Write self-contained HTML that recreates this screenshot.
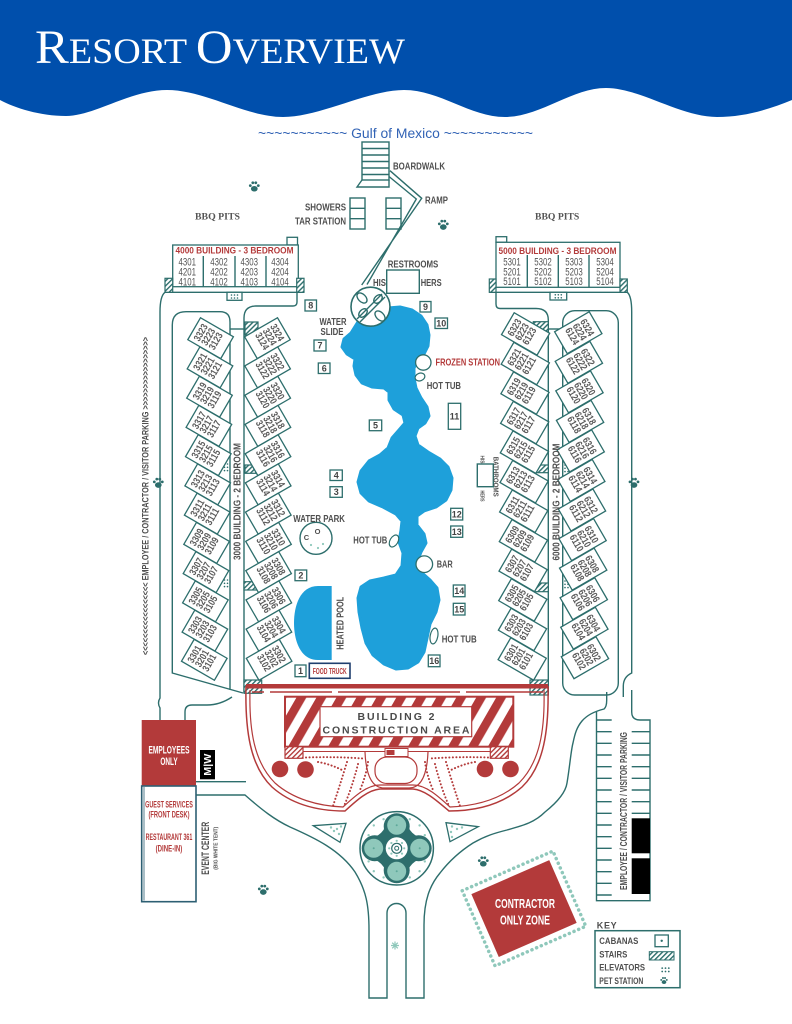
<!DOCTYPE html>
<html><head><meta charset="utf-8"><style>
html,body{margin:0;padding:0;background:#fff;}
svg{display:block;}
.c{font-family:"Liberation Sans Narrow","Liberation Sans",sans-serif;font-weight:bold;}
.g{fill:#4f4f4f;}
.n{font-family:"Liberation Sans Narrow","Liberation Sans",sans-serif;font-size:10px;font-weight:bold;fill:#5a5a5a;text-anchor:middle;}
.t{stroke:#2d6e6c;stroke-width:1.4;fill:none;}
.bx{stroke:#2d6e6c;stroke-width:1.3;fill:#fff;}
.nb{font-family:"Liberation Sans Narrow","Liberation Sans",sans-serif;font-weight:bold;font-size:9px;fill:#444;text-anchor:middle;}
.dg{font-family:"Liberation Sans Narrow","Liberation Sans",sans-serif;font-size:11px;fill:#555;text-anchor:middle;}
</style></head><body>
<svg width="792" height="1024" viewBox="0 0 792 1024" xmlns="http://www.w3.org/2000/svg">
<defs>
<pattern id="ht" width="3.5" height="3.5" patternUnits="userSpaceOnUse" patternTransform="rotate(45)"><rect width="3.5" height="3.5" fill="#fff"/><rect width="1.4" height="3.5" fill="#2d6e6c"/></pattern>
<pattern id="hr" width="3.5" height="3.5" patternUnits="userSpaceOnUse" patternTransform="rotate(45)"><rect width="3.5" height="3.5" fill="#fff"/><rect width="1.4" height="3.5" fill="#b33a3a"/></pattern>
<pattern id="st" width="17.3" height="10" patternUnits="userSpaceOnUse" patternTransform="rotate(30)"><rect width="17.3" height="10" fill="#fff"/><rect width="8.6" height="10" fill="#b33a3a"/></pattern>
<clipPath id="rb"><circle cx="396.7" cy="848.3" r="36"/></clipPath>
<symbol id="paw" viewBox="-7 -7 14 14"><ellipse cx="0" cy="2.2" rx="3.6" ry="3"/><circle cx="-4.3" cy="-1.2" r="1.5"/><circle cx="-1.6" cy="-4.2" r="1.5"/><circle cx="1.6" cy="-4.2" r="1.5"/><circle cx="4.3" cy="-1.2" r="1.5"/></symbol>
<symbol id="el" viewBox="0 0 10 6"><circle cx="2" cy="1.5" r="0.8"/><circle cx="5" cy="1.5" r="0.8"/><circle cx="8" cy="1.5" r="0.8"/><circle cx="2" cy="4.5" r="0.8"/><circle cx="5" cy="4.5" r="0.8"/><circle cx="8" cy="4.5" r="0.8"/></symbol>
</defs>
<rect width="792" height="1024" fill="#fff"/>
<!-- header -->
<path d="M0,0 H792 V100 C770,109 745,117 717,117 C680,117 640,88 606,88 C572,88 540,117 505,117 C470,117 440,90 404,90 C368,90 320,117 283,117 C246,117 205,90 167,90 C130,90 95,116 66,116 C40,116 15,108 0,100 Z" fill="#004fac"/>
<text x="35" y="63" font-family="Liberation Serif, serif" font-size="36" fill="#fff" textLength="370" lengthAdjust="spacingAndGlyphs"><tspan font-size="48">R</tspan>ESORT <tspan font-size="48">O</tspan>VERVIEW</text>
<text x="258" y="138" font-family="Liberation Sans, sans-serif" font-size="13.5" fill="#3263b5" textLength="275" lengthAdjust="spacingAndGlyphs">~~~~~~~~~~~ Gulf of Mexico ~~~~~~~~~~~</text>

<!-- boardwalk, ramp, showers -->
<g class="t" stroke-width="1.6"><rect x="362" y="142" width="27" height="38"/><path d="M362,148.5H389M362,155H389M362,161.5H389M362,168H389M362,174.5H389"/><path d="M362,180 L357,187 H389 V180"/></g>
<path class="t" d="M390,170.7 L421.7,198.3 L361.7,285 M389,176.5 L416.3,199 L367,284.5"/>
<g class="t"><rect x="350" y="198" width="15" height="31"/><path d="M350,208.3H365M350,218.7H365"/><rect x="386" y="198" width="15" height="31"/><path d="M386,208.3H401M386,218.7H401"/></g>

<!-- roads -->
<g class="t">
<path d="M165,292.3 Q160,296 160,312 V698 Q157,703 160,708 V720"/>
<path d="M230,690 V322 Q230,311.7 220,311.7 H186 Q172.3,311.7 172.3,325 V673 L243,693"/>
<path d="M230,329 H244"/>
<path d="M297,292.3 V302 Q297,306 293,306 H256 Q244,306 244,318 V693"/>
<path d="M185,720 V712 Q185,705 192,705 H207 Q220,705 232,697"/>
<path d="M496,292.3 V304 Q496,308.5 500,308.5 H536 Q548.3,308.5 548.3,320 V695"/>
<path d="M548.3,329 H562.7"/>
<rect x="562.7" y="310.7" width="55.6" height="384.3" rx="12"/>
<path d="M627.3,292.3 Q631.7,296 631.7,312 V673 Q623.3,677 623.3,686 V697"/>
<path d="M196,781.7 H246"/>
<path d="M196,795 H245 C262,810 275,820 290,827 C315,838 340,850 355,872 C366,890 369,905 369,930 V998 H387 V913 A9.5,9.5 0 0 1 406,913 V998 H424 V925 C424,900 430,885 440,873 C450,860 462,850 473,843 C485,836 495,833 507,830 C525,825 535,822 545,812 C560,800 566,790 567,783 C570,765 571,750 573,743 C575,733 577,727 582,721 C588,714 596,711 604,709 Q606.7,707 606.7,700 V692"/>
<path d="M596.5,711 V900.7 H650 V720 H640 Q631.7,720 631.7,712 V690"/>
<path d="M596.5,720H611.7M596.5,731.7H611.7M596.5,743.3H611.7M596.5,755H611.7M596.5,766.7H611.7M596.5,778.3H611.7M596.5,790H611.7M596.5,801.7H611.7M596.5,813.3H611.7M596.5,825H611.7M596.5,836.7H611.7M596.5,848.3H611.7M596.5,860H611.7M596.5,871.7H611.7M596.5,883.3H611.7M596.5,895H611.7"/>
<path d="M631.7,731.7H650M631.7,743.3H650M631.7,755H650M631.7,766.7H650M631.7,778.3H650M631.7,790H650M631.7,801.7H650M631.7,813.3H650"/>
</g>
<rect x="631.7" y="818.3" width="18.3" height="35" fill="#000"/>
<rect x="631.7" y="858.3" width="18.3" height="35.7" fill="#000"/>

<!-- 4000 building -->
<rect class="bx" x="287" y="237.3" width="10.5" height="7.7"/>
<rect class="bx" x="172.7" y="245" width="125.6" height="41.7"/>
<path class="t" d="M203.3,256V286.7M235,256V286.7M266,256V286.7M165,292.3H304"/>
<rect x="165" y="278.3" width="7.7" height="14" fill="url(#ht)" stroke="#2d6e6c" stroke-width="1.2"/>
<rect x="296.7" y="278.3" width="7.3" height="14" fill="url(#ht)" stroke="#2d6e6c" stroke-width="1.2"/>
<rect class="bx" x="227" y="292.3" width="15" height="8"/>
<use href="#el" x="229.5" y="293.5" width="10" height="6" fill="#2d6e6c"/>
<text class="c" x="234.5" y="253.3" text-anchor="middle" font-size="9.5" fill="#b33a3a" textLength="118" lengthAdjust="spacingAndGlyphs">4000 BUILDING - 3 BEDROOM</text>
<g class="dg">
<text x="187.3" y="265.5" textLength="17.5" lengthAdjust="spacingAndGlyphs">4301</text><text x="219" y="265.5" textLength="17.5" lengthAdjust="spacingAndGlyphs">4302</text><text x="249.3" y="265.5" textLength="17.5" lengthAdjust="spacingAndGlyphs">4303</text><text x="280" y="265.5" textLength="17.5" lengthAdjust="spacingAndGlyphs">4304</text>
<text x="187.3" y="275.5" textLength="17.5" lengthAdjust="spacingAndGlyphs">4201</text><text x="219" y="275.5" textLength="17.5" lengthAdjust="spacingAndGlyphs">4202</text><text x="249.3" y="275.5" textLength="17.5" lengthAdjust="spacingAndGlyphs">4203</text><text x="280" y="275.5" textLength="17.5" lengthAdjust="spacingAndGlyphs">4204</text>
<text x="187.3" y="285.3" textLength="17.5" lengthAdjust="spacingAndGlyphs">4101</text><text x="219" y="285.3" textLength="17.5" lengthAdjust="spacingAndGlyphs">4102</text><text x="249.3" y="285.3" textLength="17.5" lengthAdjust="spacingAndGlyphs">4103</text><text x="280" y="285.3" textLength="17.5" lengthAdjust="spacingAndGlyphs">4104</text>
</g>

<!-- 5000 building -->
<rect class="bx" x="496" y="236.7" width="10.7" height="5.6"/>
<rect class="bx" x="496" y="242.3" width="124" height="45"/>
<path class="t" d="M527.3,255V287.3M558.3,255V287.3M589,255V287.3M489.3,292.3H627.3"/>
<rect x="489.3" y="279" width="6.7" height="13.3" fill="url(#ht)" stroke="#2d6e6c" stroke-width="1.2"/>
<rect x="620" y="279" width="7.3" height="13.3" fill="url(#ht)" stroke="#2d6e6c" stroke-width="1.2"/>
<rect class="bx" x="550" y="292.3" width="16.7" height="7.7"/>
<use href="#el" x="553.3" y="293.3" width="10" height="6" fill="#2d6e6c"/>
<text class="c" x="557.5" y="254" text-anchor="middle" font-size="9.5" fill="#b33a3a" textLength="118" lengthAdjust="spacingAndGlyphs">5000 BUILDING - 3 BEDROOM</text>
<g class="dg">
<text x="512" y="265.5" textLength="17.5" lengthAdjust="spacingAndGlyphs">5301</text><text x="543" y="265.5" textLength="17.5" lengthAdjust="spacingAndGlyphs">5302</text><text x="574" y="265.5" textLength="17.5" lengthAdjust="spacingAndGlyphs">5303</text><text x="605" y="265.5" textLength="17.5" lengthAdjust="spacingAndGlyphs">5304</text>
<text x="512" y="275.5" textLength="17.5" lengthAdjust="spacingAndGlyphs">5201</text><text x="543" y="275.5" textLength="17.5" lengthAdjust="spacingAndGlyphs">5202</text><text x="574" y="275.5" textLength="17.5" lengthAdjust="spacingAndGlyphs">5203</text><text x="605" y="275.5" textLength="17.5" lengthAdjust="spacingAndGlyphs">5204</text>
<text x="512" y="285" textLength="17.5" lengthAdjust="spacingAndGlyphs">5101</text><text x="543" y="285" textLength="17.5" lengthAdjust="spacingAndGlyphs">5102</text><text x="574" y="285" textLength="17.5" lengthAdjust="spacingAndGlyphs">5103</text><text x="605" y="285" textLength="17.5" lengthAdjust="spacingAndGlyphs">5104</text>
</g>

<!-- corridor hatches and elevators -->
<g fill="url(#ht)" stroke="#2d6e6c" stroke-width="1.2">
<rect x="245" y="322" width="13" height="13"/><rect x="245" y="465" width="13.3" height="8.3"/><rect x="244" y="581.7" width="17.7" height="8.3"/><rect x="244" y="680" width="17.7" height="13.3"/>
<rect x="533.3" y="321.7" width="15" height="13.3"/><rect x="530" y="465" width="18.3" height="7.7"/><rect x="530" y="583" width="18.3" height="8.7"/><rect x="530" y="680" width="18.3" height="15"/>
</g>
<g fill="#2d6e6c">
<circle cx="224.5" cy="464" r="0.8"/><circle cx="227.5" cy="464" r="0.8"/><circle cx="224.5" cy="467.3" r="0.8"/><circle cx="227.5" cy="467.3" r="0.8"/><circle cx="224.5" cy="470.6" r="0.8"/><circle cx="227.5" cy="470.6" r="0.8"/>
<circle cx="224.5" cy="580" r="0.8"/><circle cx="227.5" cy="580" r="0.8"/><circle cx="224.5" cy="583.3" r="0.8"/><circle cx="227.5" cy="583.3" r="0.8"/><circle cx="224.5" cy="586.6" r="0.8"/><circle cx="227.5" cy="586.6" r="0.8"/>
<circle cx="565" cy="465" r="0.8"/><circle cx="568" cy="465" r="0.8"/><circle cx="565" cy="468.3" r="0.8"/><circle cx="568" cy="468.3" r="0.8"/><circle cx="565" cy="471.6" r="0.8"/><circle cx="568" cy="471.6" r="0.8"/>
<circle cx="565" cy="581" r="0.8"/><circle cx="568" cy="581" r="0.8"/><circle cx="565" cy="584.3" r="0.8"/><circle cx="568" cy="584.3" r="0.8"/><circle cx="565" cy="587.6" r="0.8"/><circle cx="568" cy="587.6" r="0.8"/>
</g>

<!-- 3000 left column -->
<g transform="translate(208,336.7) rotate(30)"><rect class="bx" x="-16" y="-12.7" width="38" height="25.4"/><text class="n" transform="translate(-5,0) rotate(-90)" textLength="18" lengthAdjust="spacingAndGlyphs">3323</text><text class="n" transform="translate(3.6,0) rotate(-90)" textLength="18" lengthAdjust="spacingAndGlyphs">3223</text><text class="n" transform="translate(12.2,0) rotate(-90)" textLength="18" lengthAdjust="spacingAndGlyphs">3123</text></g>
<g transform="translate(207.4,365.9) rotate(30)"><rect class="bx" x="-16" y="-12.7" width="38" height="25.4"/><text class="n" transform="translate(-5,0) rotate(-90)" textLength="18" lengthAdjust="spacingAndGlyphs">3321</text><text class="n" transform="translate(3.6,0) rotate(-90)" textLength="18" lengthAdjust="spacingAndGlyphs">3221</text><text class="n" transform="translate(12.2,0) rotate(-90)" textLength="18" lengthAdjust="spacingAndGlyphs">3121</text></g>
<g transform="translate(206.9,395.2) rotate(30)"><rect class="bx" x="-16" y="-12.7" width="38" height="25.4"/><text class="n" transform="translate(-5,0) rotate(-90)" textLength="18" lengthAdjust="spacingAndGlyphs">3319</text><text class="n" transform="translate(3.6,0) rotate(-90)" textLength="18" lengthAdjust="spacingAndGlyphs">3219</text><text class="n" transform="translate(12.2,0) rotate(-90)" textLength="18" lengthAdjust="spacingAndGlyphs">3119</text></g>
<g transform="translate(206.3,424.4) rotate(30)"><rect class="bx" x="-16" y="-12.7" width="38" height="25.4"/><text class="n" transform="translate(-5,0) rotate(-90)" textLength="18" lengthAdjust="spacingAndGlyphs">3317</text><text class="n" transform="translate(3.6,0) rotate(-90)" textLength="18" lengthAdjust="spacingAndGlyphs">3217</text><text class="n" transform="translate(12.2,0) rotate(-90)" textLength="18" lengthAdjust="spacingAndGlyphs">3117</text></g>
<g transform="translate(205.7,453.7) rotate(30)"><rect class="bx" x="-16" y="-12.7" width="38" height="25.4"/><text class="n" transform="translate(-5,0) rotate(-90)" textLength="18" lengthAdjust="spacingAndGlyphs">3315</text><text class="n" transform="translate(3.6,0) rotate(-90)" textLength="18" lengthAdjust="spacingAndGlyphs">3215</text><text class="n" transform="translate(12.2,0) rotate(-90)" textLength="18" lengthAdjust="spacingAndGlyphs">3115</text></g>
<g transform="translate(205.1,482.9) rotate(30)"><rect class="bx" x="-16" y="-12.7" width="38" height="25.4"/><text class="n" transform="translate(-5,0) rotate(-90)" textLength="18" lengthAdjust="spacingAndGlyphs">3313</text><text class="n" transform="translate(3.6,0) rotate(-90)" textLength="18" lengthAdjust="spacingAndGlyphs">3213</text><text class="n" transform="translate(12.2,0) rotate(-90)" textLength="18" lengthAdjust="spacingAndGlyphs">3113</text></g>
<g transform="translate(204.6,512.1) rotate(30)"><rect class="bx" x="-16" y="-12.7" width="38" height="25.4"/><text class="n" transform="translate(-5,0) rotate(-90)" textLength="18" lengthAdjust="spacingAndGlyphs">3311</text><text class="n" transform="translate(3.6,0) rotate(-90)" textLength="18" lengthAdjust="spacingAndGlyphs">3211</text><text class="n" transform="translate(12.2,0) rotate(-90)" textLength="18" lengthAdjust="spacingAndGlyphs">3111</text></g>
<g transform="translate(204,541.4) rotate(30)"><rect class="bx" x="-16" y="-12.7" width="38" height="25.4"/><text class="n" transform="translate(-5,0) rotate(-90)" textLength="18" lengthAdjust="spacingAndGlyphs">3309</text><text class="n" transform="translate(3.6,0) rotate(-90)" textLength="18" lengthAdjust="spacingAndGlyphs">3209</text><text class="n" transform="translate(12.2,0) rotate(-90)" textLength="18" lengthAdjust="spacingAndGlyphs">3109</text></g>
<g transform="translate(203.4,570.6) rotate(30)"><rect class="bx" x="-16" y="-12.7" width="38" height="25.4"/><text class="n" transform="translate(-5,0) rotate(-90)" textLength="18" lengthAdjust="spacingAndGlyphs">3307</text><text class="n" transform="translate(3.6,0) rotate(-90)" textLength="18" lengthAdjust="spacingAndGlyphs">3207</text><text class="n" transform="translate(12.2,0) rotate(-90)" textLength="18" lengthAdjust="spacingAndGlyphs">3107</text></g>
<g transform="translate(202.8,599.9) rotate(30)"><rect class="bx" x="-16" y="-12.7" width="38" height="25.4"/><text class="n" transform="translate(-5,0) rotate(-90)" textLength="18" lengthAdjust="spacingAndGlyphs">3305</text><text class="n" transform="translate(3.6,0) rotate(-90)" textLength="18" lengthAdjust="spacingAndGlyphs">3205</text><text class="n" transform="translate(12.2,0) rotate(-90)" textLength="18" lengthAdjust="spacingAndGlyphs">3105</text></g>
<g transform="translate(202.3,629.1) rotate(30)"><rect class="bx" x="-16" y="-12.7" width="38" height="25.4"/><text class="n" transform="translate(-5,0) rotate(-90)" textLength="18" lengthAdjust="spacingAndGlyphs">3303</text><text class="n" transform="translate(3.6,0) rotate(-90)" textLength="18" lengthAdjust="spacingAndGlyphs">3203</text><text class="n" transform="translate(12.2,0) rotate(-90)" textLength="18" lengthAdjust="spacingAndGlyphs">3103</text></g>
<g transform="translate(201.7,658.3) rotate(30)"><rect class="bx" x="-16" y="-12.7" width="38" height="25.4"/><text class="n" transform="translate(-5,0) rotate(-90)" textLength="18" lengthAdjust="spacingAndGlyphs">3301</text><text class="n" transform="translate(3.6,0) rotate(-90)" textLength="18" lengthAdjust="spacingAndGlyphs">3201</text><text class="n" transform="translate(12.2,0) rotate(-90)" textLength="18" lengthAdjust="spacingAndGlyphs">3101</text></g>

<!-- 3000 right column -->
<g transform="translate(270,336.7) rotate(-30)"><rect class="bx" x="-22" y="-12.7" width="38" height="25.4"/><text class="n" transform="translate(5,0) rotate(90)" textLength="18" lengthAdjust="spacingAndGlyphs">3324</text><text class="n" transform="translate(-3.6,0) rotate(90)" textLength="18" lengthAdjust="spacingAndGlyphs">3224</text><text class="n" transform="translate(-12.2,0) rotate(90)" textLength="18" lengthAdjust="spacingAndGlyphs">3124</text></g>
<g transform="translate(270.2,365.9) rotate(-30)"><rect class="bx" x="-22" y="-12.7" width="38" height="25.4"/><text class="n" transform="translate(5,0) rotate(90)" textLength="18" lengthAdjust="spacingAndGlyphs">3322</text><text class="n" transform="translate(-3.6,0) rotate(90)" textLength="18" lengthAdjust="spacingAndGlyphs">3222</text><text class="n" transform="translate(-12.2,0) rotate(90)" textLength="18" lengthAdjust="spacingAndGlyphs">3122</text></g>
<g transform="translate(270.3,395.2) rotate(-30)"><rect class="bx" x="-22" y="-12.7" width="38" height="25.4"/><text class="n" transform="translate(5,0) rotate(90)" textLength="18" lengthAdjust="spacingAndGlyphs">3320</text><text class="n" transform="translate(-3.6,0) rotate(90)" textLength="18" lengthAdjust="spacingAndGlyphs">3220</text><text class="n" transform="translate(-12.2,0) rotate(90)" textLength="18" lengthAdjust="spacingAndGlyphs">3120</text></g>
<g transform="translate(270.5,424.4) rotate(-30)"><rect class="bx" x="-22" y="-12.7" width="38" height="25.4"/><text class="n" transform="translate(5,0) rotate(90)" textLength="18" lengthAdjust="spacingAndGlyphs">3318</text><text class="n" transform="translate(-3.6,0) rotate(90)" textLength="18" lengthAdjust="spacingAndGlyphs">3218</text><text class="n" transform="translate(-12.2,0) rotate(90)" textLength="18" lengthAdjust="spacingAndGlyphs">3118</text></g>
<g transform="translate(270.6,453.7) rotate(-30)"><rect class="bx" x="-22" y="-12.7" width="38" height="25.4"/><text class="n" transform="translate(5,0) rotate(90)" textLength="18" lengthAdjust="spacingAndGlyphs">3316</text><text class="n" transform="translate(-3.6,0) rotate(90)" textLength="18" lengthAdjust="spacingAndGlyphs">3216</text><text class="n" transform="translate(-12.2,0) rotate(90)" textLength="18" lengthAdjust="spacingAndGlyphs">3116</text></g>
<g transform="translate(270.8,482.9) rotate(-30)"><rect class="bx" x="-22" y="-12.7" width="38" height="25.4"/><text class="n" transform="translate(5,0) rotate(90)" textLength="18" lengthAdjust="spacingAndGlyphs">3314</text><text class="n" transform="translate(-3.6,0) rotate(90)" textLength="18" lengthAdjust="spacingAndGlyphs">3214</text><text class="n" transform="translate(-12.2,0) rotate(90)" textLength="18" lengthAdjust="spacingAndGlyphs">3114</text></g>
<g transform="translate(270.9,512.1) rotate(-30)"><rect class="bx" x="-22" y="-12.7" width="38" height="25.4"/><text class="n" transform="translate(5,0) rotate(90)" textLength="18" lengthAdjust="spacingAndGlyphs">3312</text><text class="n" transform="translate(-3.6,0) rotate(90)" textLength="18" lengthAdjust="spacingAndGlyphs">3212</text><text class="n" transform="translate(-12.2,0) rotate(90)" textLength="18" lengthAdjust="spacingAndGlyphs">3112</text></g>
<g transform="translate(271.1,541.4) rotate(-30)"><rect class="bx" x="-22" y="-12.7" width="38" height="25.4"/><text class="n" transform="translate(5,0) rotate(90)" textLength="18" lengthAdjust="spacingAndGlyphs">3310</text><text class="n" transform="translate(-3.6,0) rotate(90)" textLength="18" lengthAdjust="spacingAndGlyphs">3210</text><text class="n" transform="translate(-12.2,0) rotate(90)" textLength="18" lengthAdjust="spacingAndGlyphs">3110</text></g>
<g transform="translate(271.2,570.6) rotate(-30)"><rect class="bx" x="-22" y="-12.7" width="38" height="25.4"/><text class="n" transform="translate(5,0) rotate(90)" textLength="18" lengthAdjust="spacingAndGlyphs">3308</text><text class="n" transform="translate(-3.6,0) rotate(90)" textLength="18" lengthAdjust="spacingAndGlyphs">3208</text><text class="n" transform="translate(-12.2,0) rotate(90)" textLength="18" lengthAdjust="spacingAndGlyphs">3108</text></g>
<g transform="translate(271.4,599.9) rotate(-30)"><rect class="bx" x="-22" y="-12.7" width="38" height="25.4"/><text class="n" transform="translate(5,0) rotate(90)" textLength="18" lengthAdjust="spacingAndGlyphs">3306</text><text class="n" transform="translate(-3.6,0) rotate(90)" textLength="18" lengthAdjust="spacingAndGlyphs">3206</text><text class="n" transform="translate(-12.2,0) rotate(90)" textLength="18" lengthAdjust="spacingAndGlyphs">3106</text></g>
<g transform="translate(271.5,629.1) rotate(-30)"><rect class="bx" x="-22" y="-12.7" width="38" height="25.4"/><text class="n" transform="translate(5,0) rotate(90)" textLength="18" lengthAdjust="spacingAndGlyphs">3304</text><text class="n" transform="translate(-3.6,0) rotate(90)" textLength="18" lengthAdjust="spacingAndGlyphs">3204</text><text class="n" transform="translate(-12.2,0) rotate(90)" textLength="18" lengthAdjust="spacingAndGlyphs">3104</text></g>
<g transform="translate(271.7,658.3) rotate(-30)"><rect class="bx" x="-22" y="-12.7" width="38" height="25.4"/><text class="n" transform="translate(5,0) rotate(90)" textLength="18" lengthAdjust="spacingAndGlyphs">3302</text><text class="n" transform="translate(-3.6,0) rotate(90)" textLength="18" lengthAdjust="spacingAndGlyphs">3202</text><text class="n" transform="translate(-12.2,0) rotate(90)" textLength="18" lengthAdjust="spacingAndGlyphs">3102</text></g>

<!-- 6000 left column -->
<g transform="translate(521.7,331.7) rotate(30)"><rect class="bx" x="-16" y="-12.7" width="41" height="25.4"/><text class="n" transform="translate(-5,0) rotate(-90)" textLength="18" lengthAdjust="spacingAndGlyphs">6323</text><text class="n" transform="translate(3.6,0) rotate(-90)" textLength="18" lengthAdjust="spacingAndGlyphs">6223</text><text class="n" transform="translate(12.2,0) rotate(-90)" textLength="18" lengthAdjust="spacingAndGlyphs">6123</text></g>
<g transform="translate(521.4,361.3) rotate(30)"><rect class="bx" x="-16" y="-12.7" width="41" height="25.4"/><text class="n" transform="translate(-5,0) rotate(-90)" textLength="18" lengthAdjust="spacingAndGlyphs">6321</text><text class="n" transform="translate(3.6,0) rotate(-90)" textLength="18" lengthAdjust="spacingAndGlyphs">6221</text><text class="n" transform="translate(12.2,0) rotate(-90)" textLength="18" lengthAdjust="spacingAndGlyphs">6121</text></g>
<g transform="translate(521.1,390.8) rotate(30)"><rect class="bx" x="-16" y="-12.7" width="41" height="25.4"/><text class="n" transform="translate(-5,0) rotate(-90)" textLength="18" lengthAdjust="spacingAndGlyphs">6319</text><text class="n" transform="translate(3.6,0) rotate(-90)" textLength="18" lengthAdjust="spacingAndGlyphs">6219</text><text class="n" transform="translate(12.2,0) rotate(-90)" textLength="18" lengthAdjust="spacingAndGlyphs">6119</text></g>
<g transform="translate(520.8,420.4) rotate(30)"><rect class="bx" x="-16" y="-12.7" width="41" height="25.4"/><text class="n" transform="translate(-5,0) rotate(-90)" textLength="18" lengthAdjust="spacingAndGlyphs">6317</text><text class="n" transform="translate(3.6,0) rotate(-90)" textLength="18" lengthAdjust="spacingAndGlyphs">6217</text><text class="n" transform="translate(12.2,0) rotate(-90)" textLength="18" lengthAdjust="spacingAndGlyphs">6117</text></g>
<g transform="translate(520.5,449.9) rotate(30)"><rect class="bx" x="-16" y="-12.7" width="41" height="25.4"/><text class="n" transform="translate(-5,0) rotate(-90)" textLength="18" lengthAdjust="spacingAndGlyphs">6315</text><text class="n" transform="translate(3.6,0) rotate(-90)" textLength="18" lengthAdjust="spacingAndGlyphs">6215</text><text class="n" transform="translate(12.2,0) rotate(-90)" textLength="18" lengthAdjust="spacingAndGlyphs">6115</text></g>
<g transform="translate(520.2,479.5) rotate(30)"><rect class="bx" x="-16" y="-12.7" width="41" height="25.4"/><text class="n" transform="translate(-5,0) rotate(-90)" textLength="18" lengthAdjust="spacingAndGlyphs">6313</text><text class="n" transform="translate(3.6,0) rotate(-90)" textLength="18" lengthAdjust="spacingAndGlyphs">6213</text><text class="n" transform="translate(12.2,0) rotate(-90)" textLength="18" lengthAdjust="spacingAndGlyphs">6113</text></g>
<g transform="translate(519.8,509) rotate(30)"><rect class="bx" x="-16" y="-12.7" width="41" height="25.4"/><text class="n" transform="translate(-5,0) rotate(-90)" textLength="18" lengthAdjust="spacingAndGlyphs">6311</text><text class="n" transform="translate(3.6,0) rotate(-90)" textLength="18" lengthAdjust="spacingAndGlyphs">6211</text><text class="n" transform="translate(12.2,0) rotate(-90)" textLength="18" lengthAdjust="spacingAndGlyphs">6111</text></g>
<g transform="translate(519.5,538.6) rotate(30)"><rect class="bx" x="-16" y="-12.7" width="41" height="25.4"/><text class="n" transform="translate(-5,0) rotate(-90)" textLength="18" lengthAdjust="spacingAndGlyphs">6309</text><text class="n" transform="translate(3.6,0) rotate(-90)" textLength="18" lengthAdjust="spacingAndGlyphs">6209</text><text class="n" transform="translate(12.2,0) rotate(-90)" textLength="18" lengthAdjust="spacingAndGlyphs">6109</text></g>
<g transform="translate(519.2,568.1) rotate(30)"><rect class="bx" x="-16" y="-12.7" width="41" height="25.4"/><text class="n" transform="translate(-5,0) rotate(-90)" textLength="18" lengthAdjust="spacingAndGlyphs">6307</text><text class="n" transform="translate(3.6,0) rotate(-90)" textLength="18" lengthAdjust="spacingAndGlyphs">6207</text><text class="n" transform="translate(12.2,0) rotate(-90)" textLength="18" lengthAdjust="spacingAndGlyphs">6107</text></g>
<g transform="translate(518.9,597.7) rotate(30)"><rect class="bx" x="-16" y="-12.7" width="41" height="25.4"/><text class="n" transform="translate(-5,0) rotate(-90)" textLength="18" lengthAdjust="spacingAndGlyphs">6305</text><text class="n" transform="translate(3.6,0) rotate(-90)" textLength="18" lengthAdjust="spacingAndGlyphs">6205</text><text class="n" transform="translate(12.2,0) rotate(-90)" textLength="18" lengthAdjust="spacingAndGlyphs">6105</text></g>
<g transform="translate(518.6,627.2) rotate(30)"><rect class="bx" x="-16" y="-12.7" width="41" height="25.4"/><text class="n" transform="translate(-5,0) rotate(-90)" textLength="18" lengthAdjust="spacingAndGlyphs">6303</text><text class="n" transform="translate(3.6,0) rotate(-90)" textLength="18" lengthAdjust="spacingAndGlyphs">6203</text><text class="n" transform="translate(12.2,0) rotate(-90)" textLength="18" lengthAdjust="spacingAndGlyphs">6103</text></g>
<g transform="translate(518.3,656.7) rotate(30)"><rect class="bx" x="-16" y="-12.7" width="41" height="25.4"/><text class="n" transform="translate(-5,0) rotate(-90)" textLength="18" lengthAdjust="spacingAndGlyphs">6301</text><text class="n" transform="translate(3.6,0) rotate(-90)" textLength="18" lengthAdjust="spacingAndGlyphs">6201</text><text class="n" transform="translate(12.2,0) rotate(-90)" textLength="18" lengthAdjust="spacingAndGlyphs">6101</text></g>

<!-- 6000 right column -->
<g transform="translate(580,331.7) rotate(-30)"><rect class="bx" x="-22" y="-12.7" width="40" height="25.4"/><text class="n" transform="translate(5,0) rotate(90)" textLength="18" lengthAdjust="spacingAndGlyphs">6324</text><text class="n" transform="translate(-3.6,0) rotate(90)" textLength="18" lengthAdjust="spacingAndGlyphs">6224</text><text class="n" transform="translate(-12.2,0) rotate(90)" textLength="18" lengthAdjust="spacingAndGlyphs">6124</text></g>
<g transform="translate(580.6,361.3) rotate(-30)"><rect class="bx" x="-22" y="-12.7" width="40" height="25.4"/><text class="n" transform="translate(5,0) rotate(90)" textLength="18" lengthAdjust="spacingAndGlyphs">6322</text><text class="n" transform="translate(-3.6,0) rotate(90)" textLength="18" lengthAdjust="spacingAndGlyphs">6222</text><text class="n" transform="translate(-12.2,0) rotate(90)" textLength="18" lengthAdjust="spacingAndGlyphs">6122</text></g>
<g transform="translate(581.2,390.8) rotate(-30)"><rect class="bx" x="-22" y="-12.7" width="40" height="25.4"/><text class="n" transform="translate(5,0) rotate(90)" textLength="18" lengthAdjust="spacingAndGlyphs">6320</text><text class="n" transform="translate(-3.6,0) rotate(90)" textLength="18" lengthAdjust="spacingAndGlyphs">6220</text><text class="n" transform="translate(-12.2,0) rotate(90)" textLength="18" lengthAdjust="spacingAndGlyphs">6120</text></g>
<g transform="translate(581.8,420.4) rotate(-30)"><rect class="bx" x="-22" y="-12.7" width="40" height="25.4"/><text class="n" transform="translate(5,0) rotate(90)" textLength="18" lengthAdjust="spacingAndGlyphs">6318</text><text class="n" transform="translate(-3.6,0) rotate(90)" textLength="18" lengthAdjust="spacingAndGlyphs">6218</text><text class="n" transform="translate(-12.2,0) rotate(90)" textLength="18" lengthAdjust="spacingAndGlyphs">6118</text></g>
<g transform="translate(582.4,449.9) rotate(-30)"><rect class="bx" x="-22" y="-12.7" width="40" height="25.4"/><text class="n" transform="translate(5,0) rotate(90)" textLength="18" lengthAdjust="spacingAndGlyphs">6316</text><text class="n" transform="translate(-3.6,0) rotate(90)" textLength="18" lengthAdjust="spacingAndGlyphs">6216</text><text class="n" transform="translate(-12.2,0) rotate(90)" textLength="18" lengthAdjust="spacingAndGlyphs">6116</text></g>
<g transform="translate(583,479.5) rotate(-30)"><rect class="bx" x="-22" y="-12.7" width="40" height="25.4"/><text class="n" transform="translate(5,0) rotate(90)" textLength="18" lengthAdjust="spacingAndGlyphs">6314</text><text class="n" transform="translate(-3.6,0) rotate(90)" textLength="18" lengthAdjust="spacingAndGlyphs">6214</text><text class="n" transform="translate(-12.2,0) rotate(90)" textLength="18" lengthAdjust="spacingAndGlyphs">6114</text></g>
<g transform="translate(583.7,509) rotate(-30)"><rect class="bx" x="-22" y="-12.7" width="40" height="25.4"/><text class="n" transform="translate(5,0) rotate(90)" textLength="18" lengthAdjust="spacingAndGlyphs">6312</text><text class="n" transform="translate(-3.6,0) rotate(90)" textLength="18" lengthAdjust="spacingAndGlyphs">6212</text><text class="n" transform="translate(-12.2,0) rotate(90)" textLength="18" lengthAdjust="spacingAndGlyphs">6112</text></g>
<g transform="translate(584.3,538.6) rotate(-30)"><rect class="bx" x="-22" y="-12.7" width="40" height="25.4"/><text class="n" transform="translate(5,0) rotate(90)" textLength="18" lengthAdjust="spacingAndGlyphs">6310</text><text class="n" transform="translate(-3.6,0) rotate(90)" textLength="18" lengthAdjust="spacingAndGlyphs">6210</text><text class="n" transform="translate(-12.2,0) rotate(90)" textLength="18" lengthAdjust="spacingAndGlyphs">6110</text></g>
<g transform="translate(584.9,568.1) rotate(-30)"><rect class="bx" x="-22" y="-12.7" width="40" height="25.4"/><text class="n" transform="translate(5,0) rotate(90)" textLength="18" lengthAdjust="spacingAndGlyphs">6308</text><text class="n" transform="translate(-3.6,0) rotate(90)" textLength="18" lengthAdjust="spacingAndGlyphs">6208</text><text class="n" transform="translate(-12.2,0) rotate(90)" textLength="18" lengthAdjust="spacingAndGlyphs">6108</text></g>
<g transform="translate(585.5,597.7) rotate(-30)"><rect class="bx" x="-22" y="-12.7" width="40" height="25.4"/><text class="n" transform="translate(5,0) rotate(90)" textLength="18" lengthAdjust="spacingAndGlyphs">6306</text><text class="n" transform="translate(-3.6,0) rotate(90)" textLength="18" lengthAdjust="spacingAndGlyphs">6206</text><text class="n" transform="translate(-12.2,0) rotate(90)" textLength="18" lengthAdjust="spacingAndGlyphs">6106</text></g>
<g transform="translate(586.1,627.2) rotate(-30)"><rect class="bx" x="-22" y="-12.7" width="40" height="25.4"/><text class="n" transform="translate(5,0) rotate(90)" textLength="18" lengthAdjust="spacingAndGlyphs">6304</text><text class="n" transform="translate(-3.6,0) rotate(90)" textLength="18" lengthAdjust="spacingAndGlyphs">6204</text><text class="n" transform="translate(-12.2,0) rotate(90)" textLength="18" lengthAdjust="spacingAndGlyphs">6104</text></g>
<g transform="translate(586.7,656.7) rotate(-30)"><rect class="bx" x="-22" y="-12.7" width="40" height="25.4"/><text class="n" transform="translate(5,0) rotate(90)" textLength="18" lengthAdjust="spacingAndGlyphs">6302</text><text class="n" transform="translate(-3.6,0) rotate(90)" textLength="18" lengthAdjust="spacingAndGlyphs">6202</text><text class="n" transform="translate(-12.2,0) rotate(90)" textLength="18" lengthAdjust="spacingAndGlyphs">6102</text></g>

<!-- pool -->
<polygon points="378,312 388,308 400,307 412,310 421,316 427,325 429,335 428,346 424,354 418,360 414,368 414,378 416,388 421,398 427,407 429,416 425,423 418,428 415,436 418,445 428,452 440,459 448,467 452,478 451,490 446,500 436,507 424,511 417,516 417,525 424,534 426,543 421,552 418,560 421,572 430,580 437,588 439,600 436,612 430,624 427,638 424,652 418,662 408,668 396,669 384,664 373,655 366,643 362,628 359,612 358,598 361,587 370,581 384,578 396,575 402,566 403,553 399,542 401,530 402,521 396,514 383,507 369,501 361,493 358,482 361,471 369,461 380,455 388,448 392,438 399,430 405,423 403,415 394,409 389,400 389,392 384,388 372,387 362,383 356,375 354,366 355,359 347,354 342,347 344,339 351,333 356,325 361,317 368,312" fill="#1ea0da" stroke="#1ea0da" stroke-width="3" stroke-linejoin="round"/>
<path d="M331.7,586 V660 H318 C300,660 294,640 294,623 C294,606 300,586 318,586 Z" fill="#1ea0da"/>
<!-- slide -->
<circle cx="370.5" cy="306.7" r="19.5" fill="#fff" stroke="#2d6e6c" stroke-width="1.6"/>
<g class="t" stroke-width="1.2">
<path d="M357,319 L382,294 M360,322 L385,297"/>
<ellipse cx="0" cy="0" rx="6" ry="3.8" transform="translate(362,298) rotate(45)"/>
<ellipse cx="0" cy="0" rx="6" ry="3.8" transform="translate(380,316) rotate(45)"/>
<ellipse cx="0" cy="0" rx="5" ry="3.3" transform="translate(363,313) rotate(-45)"/>
<ellipse cx="0" cy="0" rx="5" ry="3.3" transform="translate(378,299) rotate(-45)"/>
</g>
<!-- pool features -->
<circle cx="423.3" cy="362.5" r="7.7" fill="#fff" stroke="#2d6e6c" stroke-width="1.3"/>
<ellipse cx="420" cy="377" rx="5" ry="3.8" transform="rotate(-20 420 377)" fill="#fff" stroke="#2d6e6c" stroke-width="1.2"/>
<ellipse cx="394" cy="541" rx="4" ry="6.5" transform="rotate(30 394 541)" fill="#fff" stroke="#2d6e6c" stroke-width="1.2"/>
<ellipse cx="434" cy="636" rx="3.8" ry="8" transform="rotate(10 434 636)" fill="#fff" stroke="#2d6e6c" stroke-width="1.2"/>
<circle cx="424.3" cy="564.2" r="8.3" fill="#fff" stroke="#2d6e6c" stroke-width="1.3"/>
<circle cx="316" cy="538.3" r="16" fill="#fff" stroke="#2d6e6c" stroke-width="1.4"/>
<text class="c g" x="306.5" y="540" font-size="7.5" text-anchor="middle">C</text>
<text class="c g" x="317.5" y="534" font-size="7.5" text-anchor="middle">O</text>
<g fill="#8fc8bb"><circle cx="311" cy="545" r="1.1"/><circle cx="318" cy="548" r="1.1"/><circle cx="323" cy="544" r="1.1"/></g>
<rect class="t" x="386.7" y="270" width="32.6" height="23.3"/>
<rect class="t" x="477.3" y="464" width="16" height="22.7"/>

<!-- numbered boxes -->
<g>
<rect class="bx" x="305" y="300" width="11.5" height="11"/><text class="nb" x="310.8" y="308.7">8</text>
<rect class="bx" x="420" y="301.5" width="11" height="10.5"/><text class="nb" x="425.5" y="310">9</text>
<rect class="bx" x="435" y="318" width="12.5" height="10.5"/><text class="nb" x="441.3" y="326.5">10</text>
<rect class="bx" x="314" y="340" width="12" height="11"/><text class="nb" x="320" y="348.7">7</text>
<rect class="bx" x="318.3" y="363" width="11.7" height="10.5"/><text class="nb" x="324.2" y="371.5">6</text>
<rect class="bx" x="369.3" y="420" width="12.4" height="10.7"/><text class="nb" x="375.5" y="428.6">5</text>
<rect class="bx" x="448.3" y="403.3" width="12.4" height="26"/><text class="nb" x="454.5" y="419.5">11</text>
<rect class="bx" x="330" y="470" width="12.3" height="10.5"/><text class="nb" x="336.2" y="478.5">4</text>
<rect class="bx" x="330" y="486.7" width="12.3" height="10.6"/><text class="nb" x="336.2" y="495.2">3</text>
<rect class="bx" x="450.7" y="508.3" width="12" height="11.7"/><text class="nb" x="456.7" y="517.4">12</text>
<rect class="bx" x="450.7" y="526" width="12" height="11.3"/><text class="nb" x="456.7" y="534.9">13</text>
<rect class="bx" x="295" y="570" width="11.7" height="10.7"/><text class="nb" x="300.9" y="578.6">2</text>
<rect class="bx" x="453.3" y="585" width="11.7" height="11.7"/><text class="nb" x="459.2" y="594">14</text>
<rect class="bx" x="453.3" y="603.3" width="11.7" height="11.7"/><text class="nb" x="459.2" y="612.3">15</text>
<rect class="bx" x="428.3" y="655" width="11.7" height="11.7"/><text class="nb" x="434.2" y="664">16</text>
<rect class="bx" x="295" y="665" width="11" height="11.7"/><text class="nb" x="300.5" y="674">1</text>
</g>
<rect x="309.3" y="663.3" width="40.7" height="15" fill="#fff" stroke="#1f3f6e" stroke-width="1.6"/>
<text class="c" x="329.7" y="674" font-size="8" fill="#b33a3a" text-anchor="middle" textLength="34" lengthAdjust="spacingAndGlyphs">FOOD TRUCK</text>

<!-- construction area -->
<path d="M246,686 C245,730 250,766 272,787 C290,803 315,811 345,811 C357,800 368,790 380,789 H413 C425,790 436,800 449,811 C479,811 504,803 522,787 C544,766 549,730 548,686" fill="none" stroke="#b33a3a" stroke-width="1.5"/>
<path d="M250,690 C249,730 254,762 275,783 C293,799 318,806 343,807 C355,796 367,785 380,785 H413 C426,785 438,796 450,807 C476,806 501,799 519,783 C540,762 545,730 544,690" fill="none" stroke="#b33a3a" stroke-width="1.2"/>
<rect x="246" y="684" width="302" height="4.5" fill="#b33a3a"/>
<path d="M252,692 H264 M270,692 H332 M338,692 H460 M466,692 H543" stroke="#b33a3a" stroke-width="1.5"/>
<rect x="285" y="696.7" width="228.3" height="50" fill="url(#st)" stroke="#b33a3a" stroke-width="2"/>
<rect x="320" y="706.7" width="151.7" height="30" fill="#fff" stroke="#b33a3a" stroke-width="1.2"/>
<text x="396" y="720" font-family="Liberation Sans, sans-serif" font-weight="bold" font-size="10.5" fill="#4a4a4a" text-anchor="middle" textLength="77" lengthAdjust="spacing">BUILDING 2</text>
<text x="396" y="733.3" font-family="Liberation Sans, sans-serif" font-weight="bold" font-size="10.5" fill="#4a4a4a" text-anchor="middle" textLength="147" lengthAdjust="spacing">CONSTRUCTION AREA</text>
<rect x="285" y="746.7" width="18" height="11.6" fill="url(#hr)" stroke="#b33a3a" stroke-width="1.2"/>
<rect x="490.3" y="746.7" width="18" height="11.6" fill="url(#hr)" stroke="#b33a3a" stroke-width="1.2"/>
<path d="M303,751.5 H490" stroke="#b33a3a" stroke-width="1"/>
<rect x="385" y="748.5" width="23" height="8" fill="#fff" stroke="#b33a3a" stroke-width="1"/>
<rect x="386.5" y="750" width="8" height="5" fill="#b33a3a"/>
<circle cx="280" cy="769" r="8.3" fill="#b33a3a"/><circle cx="305.5" cy="769.5" r="8.3" fill="#b33a3a"/>
<circle cx="485" cy="769" r="8.3" fill="#b33a3a"/><circle cx="510.5" cy="769" r="8.3" fill="#b33a3a"/>
<rect x="375" y="757" width="42" height="26.5" rx="12" fill="none" stroke="#b33a3a" stroke-width="1.2"/>
<path d="M365,752 C366,776 372,788 384,788 H409 C421,788 427,776 428,752" fill="none" stroke="#b33a3a" stroke-width="1.2"/>
<g fill="none" stroke="#b33a3a" stroke-width="2" stroke-linecap="round" stroke-dasharray="0.1 3.4">
<path d="M306,757.5 Q335,756.5 363,758.5"/><path d="M347,762 Q340,785 333,806"/><path d="M358,764 Q352,788 344,806"/><path d="M368,762 Q366,776 360,790"/><path d="M318,762 Q330,764 342,770"/>
<path d="M488,757.5 Q458,756.5 430,758.5"/><path d="M446,762 Q453,785 460,806"/><path d="M435,764 Q441,788 449,806"/><path d="M425,762 Q427,776 433,790"/><path d="M475,762 Q463,764 451,770"/>
</g>

<!-- roundabout -->
<circle cx="396.7" cy="848.3" r="36.7" fill="#fff"/>
<g clip-path="url(#rb)">
<circle cx="396.7" cy="848.3" r="31" fill="#2d6e6c"/>
<g fill="#fff"><circle cx="425.7" cy="819.3" r="19"/><circle cx="367.7" cy="819.3" r="19"/><circle cx="425.7" cy="877.3" r="19"/><circle cx="367.7" cy="877.3" r="19"/></g>
<g fill="#2d6e6c"><circle cx="396.7" cy="826.3" r="13"/><circle cx="396.7" cy="870.3" r="13"/><circle cx="374.7" cy="848.3" r="13"/><circle cx="418.7" cy="848.3" r="13"/></g>
</g>
<circle cx="396.7" cy="848.3" r="11" fill="#fff"/>
<g fill="#8fc8bb"><circle cx="396.7" cy="825.3" r="9.5"/><circle cx="396.7" cy="871.3" r="9.5"/><circle cx="373.7" cy="848.3" r="9.5"/><circle cx="419.7" cy="848.3" r="9.5"/></g>
<circle cx="396.7" cy="848.3" r="36.7" fill="none" stroke="#2d6e6c" stroke-width="1.5"/>
<circle cx="396.7" cy="848.3" r="5" fill="none" stroke="#2d6e6c" stroke-width="1.2"/>
<circle cx="396.7" cy="848.3" r="2" fill="none" stroke="#2d6e6c" stroke-width="1"/>
<g fill="#8fc8bb">
<circle cx="404.2" cy="848.3" r="1.1"/><circle cx="402" cy="853.6" r="1.1"/><circle cx="396.7" cy="855.8" r="1.1"/><circle cx="391.4" cy="853.6" r="1.1"/><circle cx="389.2" cy="848.3" r="1.1"/><circle cx="391.4" cy="843" r="1.1"/><circle cx="396.7" cy="840.8" r="1.1"/><circle cx="402" cy="843" r="1.1"/>
<circle cx="424.8" cy="861.4" r="1.2"/><circle cx="419.6" cy="871.2" r="1.2"/><circle cx="409.8" cy="877.4" r="1.2"/>
<circle cx="383.6" cy="877.4" r="1.2"/><circle cx="373.8" cy="871.2" r="1.2"/><circle cx="368.6" cy="861.4" r="1.2"/>
<circle cx="368.6" cy="835.2" r="1.2"/><circle cx="373.8" cy="825.4" r="1.2"/><circle cx="383.6" cy="819.2" r="1.2"/>
<circle cx="409.8" cy="819.2" r="1.2"/><circle cx="419.6" cy="825.4" r="1.2"/><circle cx="424.8" cy="835.2" r="1.2"/>
<circle cx="396.7" cy="825.3" r="1" fill="#5fa89a"/><circle cx="396.7" cy="871.3" r="1" fill="#5fa89a"/><circle cx="373.7" cy="848.3" r="1" fill="#5fa89a"/><circle cx="419.7" cy="848.3" r="1" fill="#5fa89a"/>
</g>
<polygon points="313.3,825.7 346,823.3 340,842.3" fill="#fff" stroke="#2d6e6c" stroke-width="1.3"/>
<polygon points="446,822.7 478.3,826.7 450,841.7" fill="#fff" stroke="#2d6e6c" stroke-width="1.3"/>
<g fill="#8fc8bb"><circle cx="331" cy="827.5" r="1.2"/><circle cx="337" cy="829" r="1.2"/><circle cx="341" cy="826.5" r="1.2"/><circle cx="339" cy="834" r="1.2"/><circle cx="334" cy="831" r="1.2"/>
<circle cx="452" cy="826.5" r="1.2"/><circle cx="457" cy="829" r="1.2"/><circle cx="451" cy="832" r="1.2"/><circle cx="462" cy="827.5" r="1.2"/><circle cx="452" cy="837" r="1.2"/></g>
<path d="M395,941.5v8M391,945.5h8M392.2,942.7l5.6,5.6M397.8,942.7l-5.6,5.6" stroke="#8fc8bb" stroke-width="1.2"/>

<!-- left bottom buildings -->
<rect x="141.7" y="720" width="54.3" height="66" fill="#b33a3a"/>
<text class="c" x="169" y="753.3" font-size="11" fill="#fff" text-anchor="middle" textLength="41" lengthAdjust="spacingAndGlyphs">EMPLOYEES</text>
<text class="c" x="169" y="765" font-size="11" fill="#fff" text-anchor="middle" textLength="17.3" lengthAdjust="spacingAndGlyphs">ONLY</text>
<rect x="141.7" y="786" width="54.3" height="115.7" fill="#fff" stroke="#2d5f73" stroke-width="1.6"/>
<path d="M144,787 V900.5" stroke="#2d5f73" stroke-width="0.8"/>
<g class="c" fill="#b33a3a" text-anchor="middle" font-size="9.5">
<text x="169" y="807.3" textLength="47.7" lengthAdjust="spacingAndGlyphs">GUEST SERVICES</text>
<text x="169" y="817.5" textLength="41" lengthAdjust="spacingAndGlyphs">(FRONT DESK)</text>
<text x="169" y="840" textLength="46.7" lengthAdjust="spacingAndGlyphs">RESTAURANT 361</text>
<text x="169" y="851.7" textLength="26.7" lengthAdjust="spacingAndGlyphs">(DINE-IN)</text>
</g>
<rect x="200" y="750" width="15" height="29.3" fill="#000"/>
<text class="c" transform="translate(211,764.7) rotate(-90)" font-size="10" fill="#fff" text-anchor="middle" textLength="22" lengthAdjust="spacingAndGlyphs">M|W</text>
<text class="c g" transform="translate(209,848.3) rotate(-90)" font-size="11" text-anchor="middle" textLength="53" lengthAdjust="spacingAndGlyphs">EVENT CENTER</text>
<text class="c g" transform="translate(217.3,848.3) rotate(-90)" font-size="5.5" text-anchor="middle" textLength="43" lengthAdjust="spacingAndGlyphs">(BIG WHITE TENT)</text>

<!-- contractor zone -->
<g transform="translate(524,908.5) rotate(-23.6)">
<rect x="-49.5" y="-41" width="99" height="82" fill="none" stroke="#8fc8bb" stroke-width="3.5" stroke-dasharray="0.1 5" stroke-linecap="round"/>
<rect x="-42.5" y="-34.2" width="85" height="68.5" fill="#b33a3a"/>
</g>
<text class="c" x="525" y="908" font-size="13" fill="#fff" text-anchor="middle" textLength="60" lengthAdjust="spacingAndGlyphs">CONTRACTOR</text>
<text class="c" x="525" y="924.3" font-size="13" fill="#fff" text-anchor="middle" textLength="50" lengthAdjust="spacingAndGlyphs">ONLY ZONE</text>

<!-- key -->
<text class="c g" x="596.7" y="928.3" font-size="9" textLength="20" lengthAdjust="spacing">K E Y</text>
<rect x="595" y="930.7" width="85" height="57" fill="none" stroke="#2d6e6c" stroke-width="1.5"/>
<g class="c g" font-size="9.5">
<text x="599.3" y="944" textLength="39" lengthAdjust="spacingAndGlyphs">CABANAS</text>
<text x="599.3" y="957.3" textLength="28" lengthAdjust="spacingAndGlyphs">STAIRS</text>
<text x="599.3" y="970.7" textLength="45.7" lengthAdjust="spacingAndGlyphs">ELEVATORS</text>
<text x="599.3" y="984" textLength="44" lengthAdjust="spacingAndGlyphs">PET STATION</text>
</g>
<rect class="bx" x="655" y="935" width="13.3" height="11.7"/><circle cx="661.7" cy="940.8" r="1.2" fill="#2d6e6c"/>
<rect x="649.3" y="951.7" width="24.7" height="8.3" fill="url(#ht)" stroke="#2d6e6c" stroke-width="1"/>
<use href="#el" x="660" y="966.5" width="11" height="6.6" fill="#2d6e6c"/>

<!-- paws -->
<g fill="#2d6e6c">
<use href="#paw" x="247.8" y="180.2" width="13" height="13"/>
<use href="#paw" x="436.8" y="218.5" width="13" height="13"/>
<use href="#paw" x="151.8" y="476.5" width="13" height="13"/>
<use href="#paw" x="627.5" y="476.5" width="13" height="13"/>
<use href="#paw" x="256.8" y="883.5" width="13" height="13"/>
<use href="#paw" x="476.8" y="855.2" width="13" height="13"/>
<use href="#paw" x="659.5" y="976.2" width="9" height="9"/>
</g>

<!-- labels -->
<g class="c g" font-size="10">
<text x="393" y="169.5" textLength="52" lengthAdjust="spacingAndGlyphs">BOARDWALK</text>
<text x="425" y="203.5" textLength="23" lengthAdjust="spacingAndGlyphs">RAMP</text>
<text x="346" y="210.5" text-anchor="end" textLength="41" lengthAdjust="spacingAndGlyphs">SHOWERS</text>
<text x="346" y="224.5" text-anchor="end" textLength="51" lengthAdjust="spacingAndGlyphs">TAR STATION</text>
<text x="387.7" y="267.5" textLength="50.6" lengthAdjust="spacingAndGlyphs">RESTROOMS</text>
<text x="373" y="286" textLength="13" lengthAdjust="spacingAndGlyphs">HIS</text>
<text x="420.7" y="286" textLength="21" lengthAdjust="spacingAndGlyphs">HERS</text>
<text x="333" y="325" text-anchor="middle" textLength="27" lengthAdjust="spacingAndGlyphs">WATER</text>
<text x="332" y="335" text-anchor="middle" textLength="23" lengthAdjust="spacingAndGlyphs">SLIDE</text>
<text x="426.7" y="389" textLength="34.3" lengthAdjust="spacingAndGlyphs">HOT TUB</text>
<text x="353.3" y="543.5" textLength="34" lengthAdjust="spacingAndGlyphs">HOT TUB</text>
<text x="441.7" y="642.5" textLength="35" lengthAdjust="spacingAndGlyphs">HOT TUB</text>
<text x="436.7" y="567.5" textLength="16" lengthAdjust="spacingAndGlyphs">BAR</text>
<text x="293.3" y="522" textLength="51.7" lengthAdjust="spacingAndGlyphs">WATER PARK</text>
<text transform="translate(343.5,623.3) rotate(-90)" text-anchor="middle" textLength="53" lengthAdjust="spacingAndGlyphs">HEATED POOL</text>
<text transform="translate(240.5,501.5) rotate(-90)" text-anchor="middle" textLength="117" lengthAdjust="spacingAndGlyphs">3000 BUILDING - 2 BEDROOM</text>
<text transform="translate(559.5,502) rotate(-90)" text-anchor="middle" textLength="117" lengthAdjust="spacingAndGlyphs">6000 BUILDING - 2 BEDROOM</text>
<text transform="translate(148.5,496) rotate(-90)" text-anchor="middle" font-size="9.5" textLength="318" lengthAdjust="spacingAndGlyphs">&lt;&lt;&lt;&lt;&lt;&lt;&lt;&lt;&lt;&lt;&lt;&lt;&lt;&lt;&lt;&lt;&lt; EMPLOYEE / CONTRACTOR / VISITOR PARKING &gt;&gt;&gt;&gt;&gt;&gt;&gt;&gt;&gt;&gt;&gt;&gt;&gt;&gt;&gt;&gt;&gt;</text>
<text transform="translate(626.8,811) rotate(-90)" text-anchor="middle" textLength="158" lengthAdjust="spacingAndGlyphs">EMPLOYEE / CONTRACTOR / VISITOR PARKING</text>
<text transform="translate(493.5,476.7) rotate(90)" text-anchor="middle" font-size="7" textLength="40" lengthAdjust="spacingAndGlyphs">BATHROOMS</text>
<text transform="translate(480.5,459.5) rotate(90)" text-anchor="middle" font-size="5.5" textLength="8" lengthAdjust="spacingAndGlyphs">HIS</text>
<text transform="translate(480.5,496) rotate(90)" text-anchor="middle" font-size="5.5" textLength="11" lengthAdjust="spacingAndGlyphs">HERS</text>
</g>
<text class="c" x="435.5" y="365.5" font-size="10" fill="#b33a3a" textLength="64.5" lengthAdjust="spacingAndGlyphs">FROZEN STATION</text>
<text x="195" y="219.5" font-family="Liberation Serif, serif" font-weight="bold" font-size="9.5" fill="#555" textLength="45" lengthAdjust="spacingAndGlyphs">BBQ PITS</text>
<text x="535" y="219.5" font-family="Liberation Serif, serif" font-weight="bold" font-size="9.5" fill="#555" textLength="44.3" lengthAdjust="spacingAndGlyphs">BBQ PITS</text>
</svg>
</body></html>
